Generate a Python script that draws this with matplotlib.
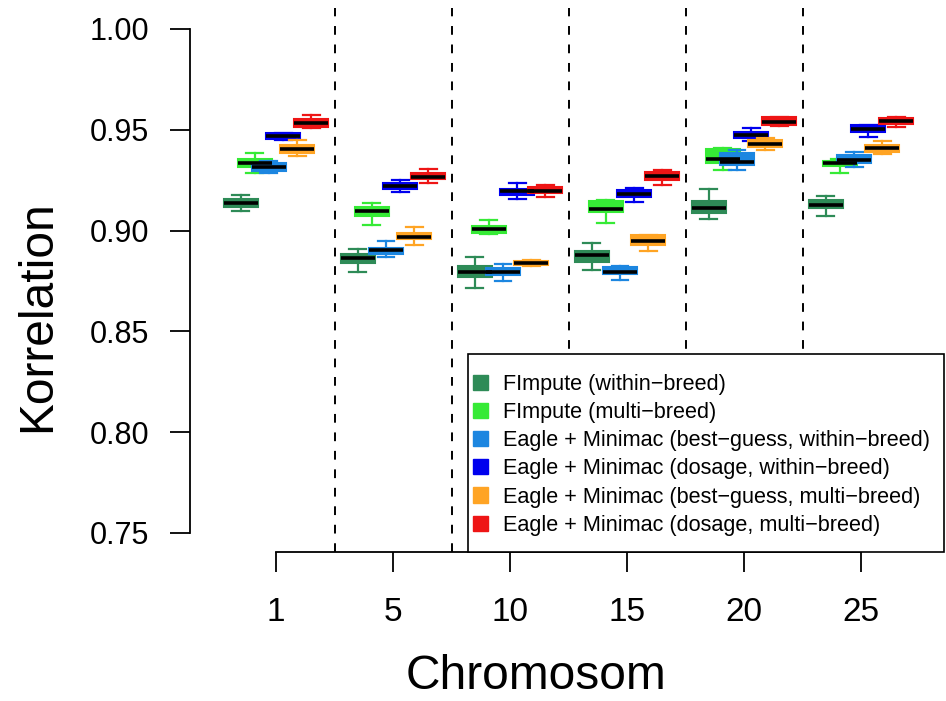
import matplotlib
matplotlib.use("Agg")
import matplotlib.pyplot as plt
from matplotlib.patches import Patch, Rectangle

plt.rcParams['font.family'] = ['Liberation Sans', 'DejaVu Sans']

chromosomes = ["1", "5", "10", "15", "20", "25"]

methods = [
    "FImpute (within\u2212breed)",
    "FImpute (multi\u2212breed)",
    "Eagle + Minimac (best\u2212guess, within\u2212breed)",
    "Eagle + Minimac (dosage, within\u2212breed)",
    "Eagle + Minimac (best\u2212guess, multi\u2212breed)",
    "Eagle + Minimac (dosage, multi\u2212breed)",
]
colors = ["#2E8B57", "#36EA36", "#1C86E0", "#0000EE", "#FFA424", "#EE1515"]

# per method: values per chromosome
med = [
    [0.9135, 0.8863, 0.8795, 0.8877, 0.9112, 0.9129],
    [0.9337, 0.9096, 0.9009, 0.9109, 0.9354, 0.9334],
    [0.9317, 0.8901, 0.8795, 0.8795, 0.9340, 0.9350],
    [0.9469, 0.9221, 0.9195, 0.9182, 0.9476, 0.9506],
    [0.9403, 0.8970, 0.8838, 0.8950, 0.9430, 0.9410],
    [0.9535, 0.9268, 0.9198, 0.9271, 0.9539, 0.9545],
]
q1 = [
    [0.9119, 0.8838, 0.8771, 0.8844, 0.9089, 0.9111],
    [0.9317, 0.9072, 0.8990, 0.9092, 0.9337, 0.9320],
    [0.9297, 0.8884, 0.8781, 0.8785, 0.9324, 0.9337],
    [0.9453, 0.9205, 0.9175, 0.9168, 0.9459, 0.9489],
    [0.9383, 0.8957, 0.8828, 0.8927, 0.9416, 0.9390],
    [0.9515, 0.9254, 0.9185, 0.9251, 0.9525, 0.9529],
]
q3 = [
    [0.9155, 0.8884, 0.8824, 0.8900, 0.9145, 0.9152],
    [0.9357, 0.9116, 0.9023, 0.9148, 0.9403, 0.9347],
    [0.9334, 0.8914, 0.8814, 0.8821, 0.9383, 0.9377],
    [0.9483, 0.9238, 0.9208, 0.9201, 0.9489, 0.9522],
    [0.9426, 0.8990, 0.8851, 0.8977, 0.9449, 0.9426],
    [0.9552, 0.9284, 0.9215, 0.9291, 0.9562, 0.9559],
]
wlo = [
    [0.9099, 0.8795, 0.8715, 0.8805, 0.9056, 0.9072],
    [0.9284, 0.9026, 0.8985, 0.9039, 0.9301, 0.9287],
    [0.9287, 0.8871, 0.8752, 0.8755, 0.9300, 0.9314],
    [0.9450, 0.9190, 0.9158, 0.9142, 0.9443, 0.9463],
    [0.9370, 0.8927, 0.8825, 0.8897, 0.9400, 0.9380],
    [0.9510, 0.9235, 0.9165, 0.9225, 0.9520, 0.9512],
]
whi = [
    [0.9178, 0.8910, 0.8868, 0.8937, 0.9205, 0.9172],
    [0.9387, 0.9135, 0.9053, 0.9150, 0.9410, 0.9355],
    [0.9345, 0.8950, 0.8834, 0.8825, 0.9400, 0.9390],
    [0.9486, 0.9250, 0.9235, 0.9210, 0.9509, 0.9525],
    [0.9449, 0.9016, 0.8855, 0.8980, 0.9460, 0.9443],
    [0.9575, 0.9304, 0.9225, 0.9300, 0.9565, 0.9565],
]

fig = plt.figure(figsize=(9.46, 7.01), dpi=100)
ax = fig.add_axes([190 / 946, 149 / 701, 754 / 946, 544 / 701])

step = 0.12
width = 0.29
for k in range(len(methods)):
    stats = []
    for g in range(len(chromosomes)):
        stats.append(dict(med=med[k][g], q1=q1[k][g], q3=q3[k][g],
                          whislo=wlo[k][g], whishi=whi[k][g], fliers=[]))
    pos = [g + (k - 2.5) * step for g in range(len(chromosomes))]
    c = colors[k]
    ax.bxp(stats, positions=pos, widths=width, patch_artist=True,
           showfliers=False, manage_ticks=False,
           boxprops=dict(facecolor=c, edgecolor=c, linewidth=1.5),
           whiskerprops=dict(color=c, linewidth=1.6),
           capprops=dict(color=c, linewidth=1.6),
           medianprops=dict(color="black", linewidth=2.6),
           capwidths=width / 2)

for g in range(len(chromosomes) - 1):
    ax.axvline(g + 0.5, color="black", linewidth=1.4, linestyle=(0, (4.5, 5)))

for s in ["top", "right"]:
    ax.spines[s].set_visible(False)
ax.spines["left"].set_bounds(0.75, 1.00)
ax.spines["bottom"].set_bounds(0, 5)
ax.spines["left"].set_linewidth(1.3)
ax.spines["bottom"].set_linewidth(1.3)

ax.set_xlim(-0.735, 5.709)
ax.set_ylim(0.7405, 1.0104)
ax.set_yticks([0.75, 0.80, 0.85, 0.90, 0.95, 1.00])
ax.set_yticklabels(["0.75", "0.80", "0.85", "0.90", "0.95", "1.00"])
ax.set_xticks(range(len(chromosomes)))
ax.set_xticklabels(chromosomes)
ax.tick_params(axis="y", length=14.5, width=1.3, pad=15, labelsize=22)
ax.tick_params(axis="x", length=14.5, width=1.3, pad=18, labelsize=24)

ax.set_ylabel("Korrelation", fontsize=34.5, va="baseline")
ax.yaxis.set_label_coords((50 - 190) / 754, (552 - 316) / 544)
ax.set_xlabel("Chromosom", fontsize=34.5, va="baseline")
ax.xaxis.set_label_coords((536 - 190) / 754, (552 - 689) / 544)

# legend frame (R style: small side padding, larger top/bottom padding)
ax.add_patch(Rectangle((278 / 754, 0), 476 / 754, 198 / 544,
                       transform=ax.transAxes, facecolor="white",
                       edgecolor="black", linewidth=1.2, zorder=4,
                       clip_on=False))
handles = [Patch(facecolor=c, edgecolor=c) for c in colors]
leg = ax.legend(handles, methods, loc="upper left",
                bbox_to_anchor=(473 / 946, 1 - 374 / 701),
                bbox_transform=fig.transFigure, fontsize=15.6,
                frameon=False, borderaxespad=0, borderpad=0,
                handlelength=0.7, handleheight=0.7, handletextpad=0.68,
                labelspacing=0.33)
leg.set_zorder(5)

fig.savefig("out.png", dpi=100)
